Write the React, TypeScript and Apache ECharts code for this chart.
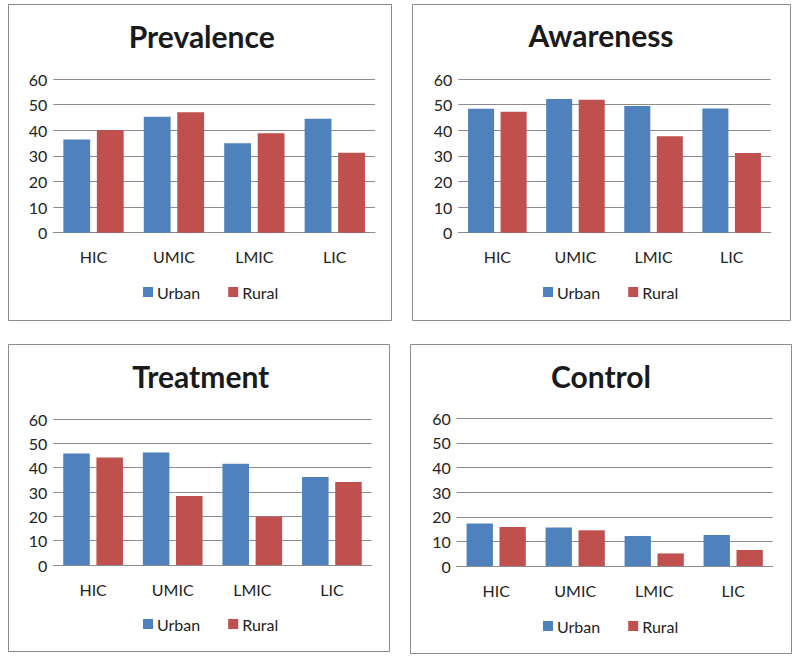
import React, { useEffect, useRef } from "react";
import * as echarts from "echarts";

const categories = ["HIC", "UMIC", "LMIC", "LIC"];
const seriesNames = ["Urban", "Rural"];
const yTicks = [0, 10, 20, 30, 40, 50, 60];

const prevalenceUrban = [36.4, 45.3, 34.9, 44.5];
const prevalenceRural = [40.1, 47.0, 38.8, 31.2];
const awarenessUrban = [48.4, 52.2, 49.5, 48.5];
const awarenessRural = [47.2, 51.9, 37.7, 31.1];
const treatmentUrban = [45.8, 46.2, 41.6, 36.2];
const treatmentRural = [44.2, 28.4, 19.9, 34.1];
const controlUrban = [17.3, 15.6, 12.2, 12.6];
const controlRural = [15.8, 14.5, 5.1, 6.5];

const panelTitles = ["Prevalence", "Awareness", "Treatment", "Control"];
const panelData = [
  [prevalenceUrban, prevalenceRural],
  [awarenessUrban, awarenessRural],
  [treatmentUrban, treatmentRural],
  [controlUrban, controlRural],
];

const FONT = "Lato, 'Open Sans', sans-serif";
const BLUE = "#4F81BD";
const RED = "#C0504D";
const GRID = "#8c8c8c";

const layout = [
  { grid: { left: 53.3, top: 79, width: 321.7, height: 153.7 }, title: [201.7, 38], legend: [143, 293], border: [8.5, 4.5, 383, 316] },
  { grid: { left: 458.3, top: 79, width: 312.4, height: 153.7 }, title: [601, 37], legend: [543, 293], border: [412.5, 4.5, 378, 316] },
  { grid: { left: 53.3, top: 419, width: 318.4, height: 146 }, title: [200.8, 378], legend: [143, 625], border: [8.5, 344.5, 381, 307] },
  { grid: { left: 456.7, top: 418.3, width: 316, height: 147.7 }, title: [601, 378], legend: [543, 627], border: [410.5, 344.5, 381, 309] },
];

export default function App() {
  const ref = useRef<HTMLDivElement>(null);
  useEffect(() => {
    if (!ref.current) return;
    const chart = echarts.init(ref.current, null, { renderer: "svg" });
    const grids = layout.map((l) => l.grid);
    const xAxis = layout.map((_, i) => ({
      type: "category",
      gridIndex: i,
      data: categories,
      axisTick: { show: false },
      axisLine: { lineStyle: { color: GRID, width: 1 } },
      axisLabel: { color: "#222", fontFamily: FONT, fontSize: 16, margin: 16 },
    }));
    const yAxis = layout.map((_, i) => ({
      type: "value",
      gridIndex: i,
      min: yTicks[0],
      max: yTicks[yTicks.length - 1],
      interval: 10,
      axisLine: { show: false },
      axisTick: { show: false },
      splitLine: { lineStyle: { color: GRID, width: 1 } },
      axisLabel: { color: "#222", fontFamily: FONT, fontSize: 16, margin: 6 },
    }));
    const series: any[] = [];
    panelData.forEach((pair, i) => {
      pair.forEach((vals, j) => {
        series.push({
          type: "bar",
          name: seriesNames[j],
          xAxisIndex: i,
          yAxisIndex: i,
          data: vals,
          barGap: "25%",
          barCategoryGap: "25%",
          itemStyle: { color: j === 0 ? BLUE : RED },
        });
      });
    });
    const title = layout.map((l, i) => ({
      text: panelTitles[i],
      left: l.title[0],
      top: l.title[1] - 17,
      textAlign: "center",
      padding: 0,
      textStyle: { fontFamily: FONT, fontSize: 30, fontWeight: "bold", color: "#1a1a1a" },
    }));
    const legend = layout.map((l) => ({
      data: seriesNames,
      left: l.legend[0],
      top: l.legend[1] - 9,
      padding: 0,
      icon: "rect",
      itemWidth: 10,
      itemHeight: 10,
      itemGap: 28,
      selectedMode: false,
      textStyle: { fontFamily: FONT, fontSize: 16, color: "#222", padding: [0, 0, 0, -1] },
    }));
    const graphic = layout.map((l) => ({
      type: "rect",
      shape: { x: l.border[0], y: l.border[1], width: l.border[2], height: l.border[3] },
      style: { fill: "none", stroke: "#8c8c8c", lineWidth: 1 },
      silent: true,
    }));
    chart.setOption({
      animation: false,
      backgroundColor: "#ffffff",
      title,
      legend,
      grid: grids,
      xAxis,
      yAxis,
      series,
      graphic,
    });
    return () => chart.dispose();
  }, []);
  return (
    <div
      ref={ref}
      style={{ position: "absolute", left: 0, top: 0, width: 800, height: 661 }}
    />
  );
}
